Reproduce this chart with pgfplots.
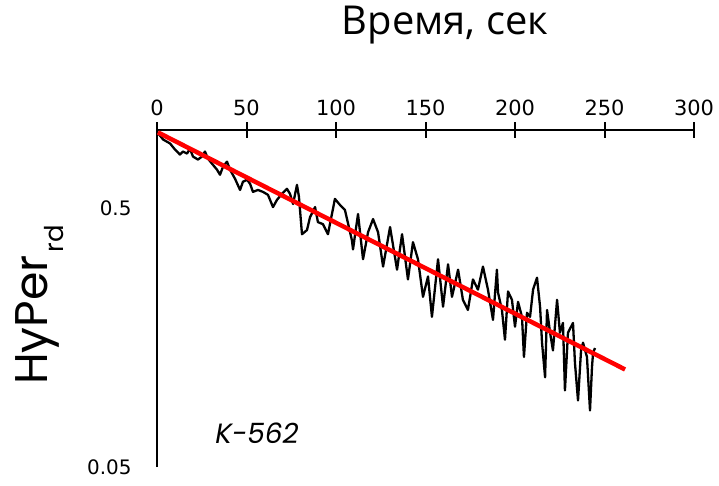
\documentclass[border=0pt]{standalone}
\usepackage{fontspec}
\setmainfont{DejaVu Sans}
\newfontfamily\gfont{Poppins}
\newfontfamily\tfont{Open Sans}
\usepackage{pgfplots}
\pgfplotsset{compat=1.18}
\begin{document}
\begin{tikzpicture}
\useasboundingbox (0bp,0bp) rectangle (719bp,-486bp);
\begin{axis}[
  at={(157bp,-467bp)}, anchor=south west,
  scale only axis, width=537bp, height=337bp,
  xmin=0, xmax=300, ymode=log, ymin=0.05, ymax=1.0,
  axis x line*=top, axis y line*=left,
  axis line style={line width=2bp, black},
  xtick={0,50,...,300},
  ytick={0.05,0.5}, yticklabels={0.05,0.5},
  tick align=center,
  xtick style={line width=2bp, black},
  x tick label style={font=\fontsize{21}{21}\selectfont, yshift=3bp},
  y tick label style={font=\fontsize{20}{20}\selectfont, xshift=-14bp},
  ytick style={draw=none},
  major tick length=16bp,
  /pgf/number format/assume math mode=true,
  clip=false,
]
\addplot[black, line width=2.3bp, line join=round] coordinates {
(1.1,0.962) (3.4,0.919) (7.3,0.887) (10.1,0.840) (12.8,0.804) (14.5,0.826)
(16.8,0.811) (18.4,0.848) (20.1,0.790) (22.9,0.769) (25.1,0.790) (26.8,0.826)
(28.5,0.775) (30.7,0.742) (33.5,0.703) (35.2,0.672) (36.9,0.722) (39.1,0.755)
(40.8,0.703) (43.6,0.648) (46.4,0.587) (48.0,0.631) (50.3,0.643) (52.0,0.620)
(53.6,0.577) (56.4,0.587) (59.2,0.577) (62.0,0.562) (64.8,0.504) (67.0,0.537)
(69.8,0.567) (72.6,0.593) (74.3,0.567) (76.0,0.518) (78.2,0.614) (79.3,0.552)
(81.0,0.396) (83.8,0.411) (85.5,0.461) (88.3,0.504) (89.9,0.441) (92.7,0.433)
(95.5,0.396) (99.4,0.542) (102.2,0.514) (105.0,0.491) (108.9,0.375) (109.5,0.346)
(112.3,0.474) (115.1,0.317) (117.9,0.403) (120.7,0.453) (123.5,0.403) (126.3,0.297)
(130.2,0.422) (134.1,0.289) (136.9,0.396) (140.2,0.265) (143.0,0.369) (145.8,0.317)
(148.6,0.227) (151.4,0.272) (153.6,0.190) (157.0,0.317) (159.8,0.208) (162.6,0.303)
(164.8,0.227) (168.2,0.289) (170.9,0.221) (173.7,0.202) (176.5,0.265) (179.3,0.242)
(182.1,0.297) (184.9,0.242) (187.7,0.185) (189.9,0.289) (190.5,0.236) (192.7,0.202)
(194.4,0.155) (196.1,0.238) (198.3,0.221) (200.0,0.174) (201.7,0.217) (203.9,0.190)
(205.0,0.133) (206.7,0.197) (208.4,0.190) (210.1,0.242) (212.3,0.269) (214.0,0.208)
(215.1,0.151) (216.8,0.111) (217.9,0.202) (219.6,0.165) (221.2,0.141) (223.5,0.221)
(225.1,0.165) (226.8,0.180) (227.9,0.0988) (229.6,0.165) (232.4,0.180) (233.5,0.126)
(235.2,0.0903) (236.9,0.141) (238.0,0.151) (240.2,0.133) (241.9,0.0826) (243.0,0.121)
(243.6,0.138) (244.7,0.144)
};
\addplot[red, line width=4.5bp] coordinates {(0.5,0.979) (261.5,0.119)};
\end{axis}
\node[font=\tfont\fontsize{40}{40}\selectfont] at (445bp,-25bp) {Время, сек};
\node[rotate=90, font=\gfont\fontsize{46}{46}\selectfont] at (40bp,-305bp) {HyPer\hspace{3bp}\raisebox{-16bp}{\fontsize{26}{26}\selectfont rd}};
\node[font=\gfont\itshape\fontsize{28}{28}\selectfont] at (257bp,-433bp) {K-562};
\end{tikzpicture}
\end{document}
